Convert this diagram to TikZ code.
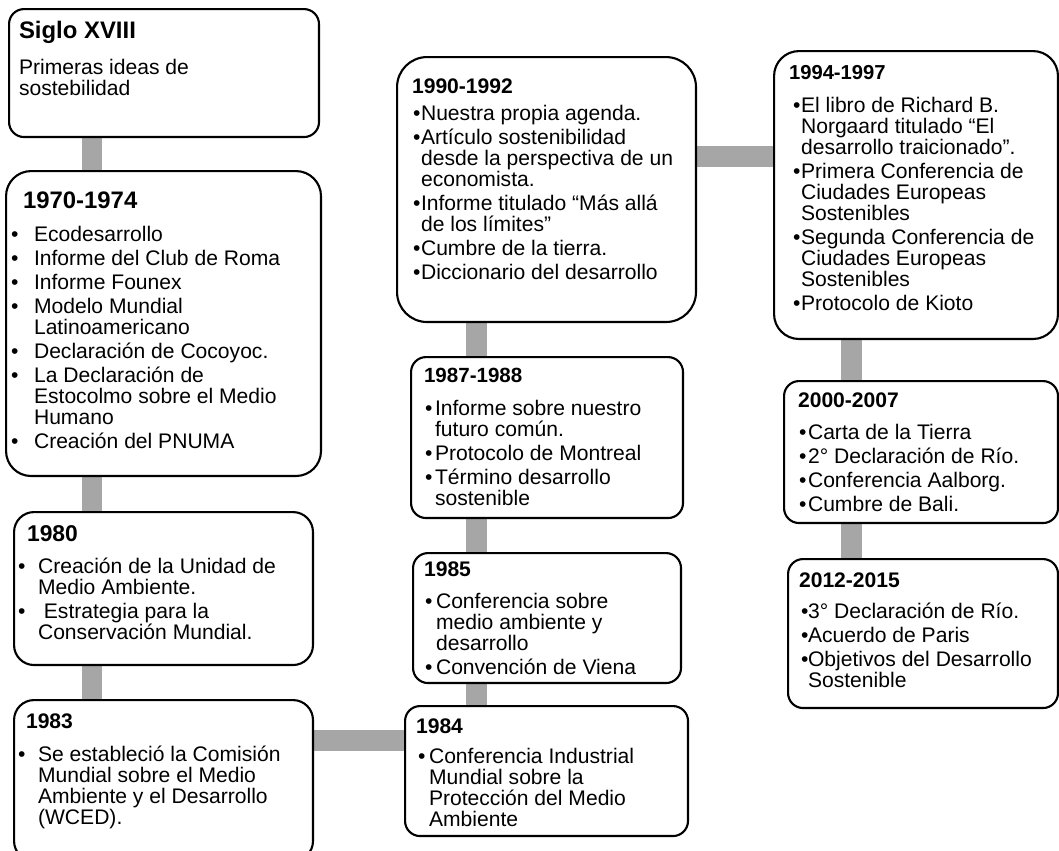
\documentclass[tikz,border=0pt]{standalone}
\usepackage{fontspec}
\setmainfont{Liberation Sans}
\usetikzlibrary{backgrounds}

\definecolor{linkgray}{HTML}{A6A6A6}
\newlength\px \setlength\px{0.02cm}
\newlength\itsep \setlength\itsep{3\px}
\newlength\bulx \newlength\txtx
\newcommand\evind[2]{\setlength\bulx{#1\px}\setlength\txtx{#2\px}}
\newcommand\evhead[5]{\rule{0pt}{#1\px}\hspace*{#2\px}{\fontsize{#3}{#3}\selectfont\bfseries #4}\par\vspace{\dimexpr #5\px-21\px-\itsep\relax}}
\newcommand\itm{\par\vspace{\itsep}\hangindent=\txtx\hangafter=1\noindent\hbox to \txtx{\hspace{\bulx}\textbullet\hss}\ignorespaces}
\newcommand\evtext[3]{\parbox[c][#2][t]{#1}{\fontsize{12pt}{21\px}\selectfont\rightskip=0pt plus 1fil\hyphenpenalty=10000 #3\par}}

\begin{document}
\begin{tikzpicture}[x=0.02cm, y=-0.02cm,
  evbox/.style={draw=black, line width=1.2pt, fill=white, anchor=north west, inner sep=0pt, rounded corners=#1},
  evbox/.default=0.3cm,
  link/.style={draw=linkgray, line width=0.42cm}]
\useasboundingbox (0,0) rectangle (1059,850);

% left column
\node[evbox] (siglo) at (8,8) {\evtext{6.2cm}{2.56cm}{\evhead{29}{10}{13.6pt}{Siglo XVIII}{39.5}{\leftskip=10\px Primeras ideas de\\sostebilidad\par}}};
\node[evbox=0.5cm] (s1970) at (5,170) {\evtext{6.3cm}{6.1cm}{\evind{5}{28}\evhead{37}{17}{13.6pt}{1970-1974}{33}%
  \itm Ecodesarrollo \itm Informe del Club de Roma \itm Informe Founex \itm Modelo Mundial\\Latinoamericano
  \itm Declaración de Cocoyoc. \itm La Declaración de\\Estocolmo sobre el Medio\\Humano \itm Creación del PNUMA}};
\node[evbox=0.4cm] (s1980) at (13,511) {\evtext{5.98cm}{3.06cm}{\evind{4}{24}\evhead{29}{13}{13pt}{1980}{32}%
  \itm Creación de la Unidad de\\Medio Ambiente. \itm\ Estrategia para la\\Conservación Mundial.}};
\node[evbox=0.4cm] (s1983) at (13,699) {\evtext{5.98cm}{3.22cm}{\evind{4}{24}\evhead{28}{12}{12pt}{1983}{33}%
  \itm Se estableció la Comisión\\Mundial sobre el Medio\\Ambiente y el Desarrollo\\(WCED).}};

% middle column
\node[evbox] (s1984) at (404,705) {\evtext{5.66cm}{2.6cm}{\evind{13}{24}\evhead{27}{11}{12pt}{1984}{30}%
  \itm Conferencia Industrial\\Mundial sobre la\\Protección del Medio\\Ambiente}};
\node[evbox] (s1985) at (412,552) {\evtext{5.36cm}{2.6cm}{\evind{12}{23}\evhead{23}{11}{12pt}{1985}{32}%
  \itm Conferencia sobre\\medio ambiente y\\desarrollo \itm Convención de Viena}};
\node[evbox] (s1987) at (410,356) {\evtext{5.44cm}{3.22cm}{\evind{14}{24}\evhead{25}{13}{11.7pt}{1987-1988}{33}%
  \itm Informe sobre nuestro\\futuro común. \itm Protocolo de Montreal \itm Término desarrollo\\sostenible}};
\node[evbox=0.6cm] (s1990) at (396,56) {\evtext{5.98cm}{5.3cm}{\evind{16}{24}\evhead{36}{15}{12pt}{1990-1992}{27}%
  \itm Nuestra propia agenda. \itm Artículo sostenibilidad\\desde la perspectiva de un\\economista.
  \itm Informe titulado “Más allá\\de los límites” \itm Cumbre de la tierra. \itm Diccionario del desarrollo}};

% right column
\node[evbox=0.5cm] (s1994) at (773,50) {\evtext{5.68cm}{5.76cm}{\evind{19}{27}\evhead{28}{15}{11.5pt}{1994-1997}{33}%
  \itm El libro de Richard B.\\Norgaard titulado “El\\desarrollo traicionado”.
  \itm Primera Conferencia de\\Ciudades Europeas\\Sostenibles \itm Segunda Conferencia de\\Ciudades Europeas\\Sostenibles
  \itm Protocolo de Kioto}};
\node[evbox] (s2000) at (783,380) {\evtext{5.48cm}{2.84cm}{\evind{15}{24}\evhead{26}{14}{12pt}{2000-2007}{32}%
  \itm Carta de la Tierra \itm 2° Declaración de Río. \itm Conferencia Aalborg. \itm Cumbre de Bali.}};
\node[evbox] (s2012) at (787,558) {\evtext{5.4cm}{2.98cm}{\evind{13}{20}\evhead{28}{11}{12pt}{2012-2015}{31}%
  \itm 3° Declaración de Río. \itm Acuerdo de Paris \itm Objetivos del Desarrollo\\Sostenible}};

\coordinate (colA) at (92,0);
\coordinate (colB) at (476,0);
\coordinate (colC) at (851,0);
\coordinate (rowA) at (0,156);
\coordinate (rowB) at (0,740);

\begin{scope}[on background layer]
\draw[link] (siglo.south -| colA) -- (s1970.north -| colA);
\draw[link] (s1970.south -| colA) -- (s1980.north -| colA);
\draw[link] (s1980.south -| colA) -- (s1983.north -| colA);
\draw[link] (s1983.east |- rowB) -- (s1984.west |- rowB);
\draw[link] (s1984.north -| colB) -- (s1985.south -| colB);
\draw[link] (s1985.north -| colB) -- (s1987.south -| colB);
\draw[link] (s1987.north -| colB) -- (s1990.south -| colB);
\draw[link] (s1990.east |- rowA) -- (s1994.west |- rowA);
\draw[link] (s1994.south -| colC) -- (s2000.north -| colC);
\draw[link] (s2000.south -| colC) -- (s2012.north -| colC);
\end{scope}
\end{tikzpicture}
\end{document}
